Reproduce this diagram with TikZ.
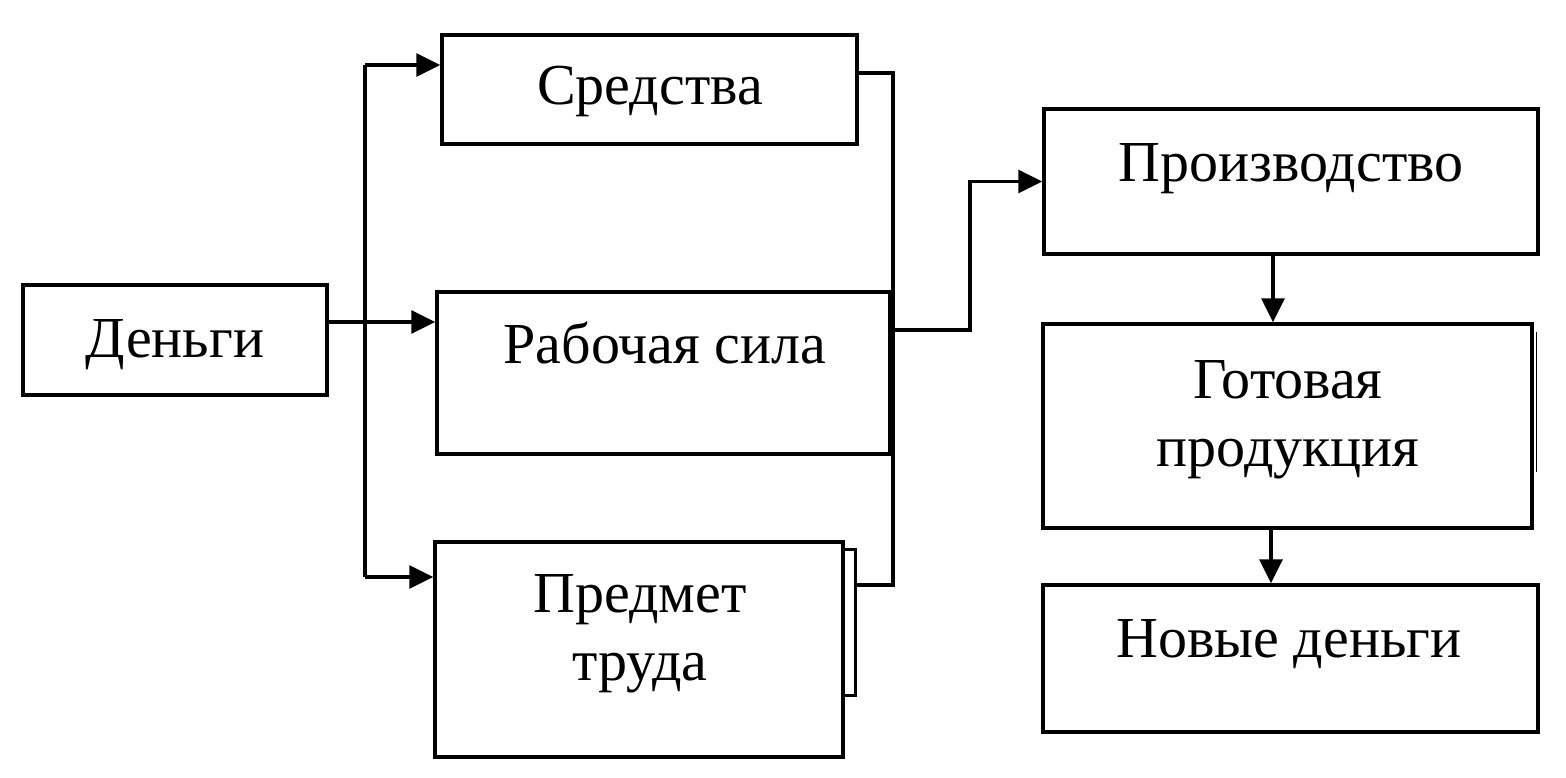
\documentclass[tikz,border=0pt]{standalone}
\usepackage{fontspec}
\setmainfont{Liberation Serif}
\usetikzlibrary{arrows.meta}
\begin{document}
\begin{tikzpicture}[x=1pt,y=-1pt,
  box/.style={draw,line width=3.5pt,rectangle,inner sep=0pt,anchor=center},
  lbl/.style={anchor=base,inner sep=0pt,font=\fontsize{58}{68}\selectfont},
  conn/.style={line width=3.5pt},
  arr/.style={line width=3.5pt,-{Triangle[length=24pt,width=23pt]}}]
\useasboundingbox (0,0) rectangle (1566,778);
\fill[white] (0,0) rectangle (1566,778);
% boxes
\node[box,minimum width=304pt,minimum height=110pt] (den) at (175,340) {};
\node[box,minimum width=415pt,minimum height=109pt] (sred) at (649.5,89.5) {};
\node[box,minimum width=453pt,minimum height=162pt] (rab) at (663.5,373) {};
\node[box,minimum width=408pt,minimum height=215pt] (pred) at (639,649.5) {};
\node[box,line width=3pt,minimum width=12pt,minimum height=146pt] (strip) at (849,622) {};
\node[box,minimum width=494pt,minimum height=145pt] (proizv) at (1291,181.5) {};
\node[box,minimum width=489pt,minimum height=204pt] (got) at (1287.5,426) {};
\node[box,minimum width=495pt,minimum height=147pt] (nov) at (1290.5,658.5) {};
\draw[line width=1.5pt] (1536.5,332) -- (1536.5,472);
% labels
\node[lbl] (tden) at (175,357) {Деньги};
\node[lbl] (tsred) at (650,105) {Средства};
\node[lbl] (trab) at (665,363) {Рабочая сила};
\node[lbl] (tpred1) at (640,612) {Предмет};
\node[lbl] (tpred2) at (640,680) {труда};
\node[lbl] (tproizv) at (1291,182) {Производство};
\node[lbl] (tgot1) at (1288,398) {Готовая};
\node[lbl] (tgot2) at (1288,466) {продукция};
\node[lbl] (tnov) at (1289,657) {Новые деньги};
% connector coordinates
\coordinate (a1) at (365,65);
\coordinate (a2) at (365,577);
\coordinate (m) at (0,322);
\coordinate (r1) at (893,73);
\coordinate (r2) at (893,585);
\coordinate (k) at (970,330);
\coordinate (v1) at (1273,0);
\coordinate (v2) at (1271,0);
% connectors
\draw[conn] (a1) -- (a2);
\draw[arr] (a1) -- (sred.west |- a1);
\draw[arr] (a2) -- (pred.west |- a2);
\draw[arr] (den.east |- m) -- (rab.west |- m);
\draw[conn] (sred.east |- r1) -- (r1) -- (r2) -- (strip.east |- r2);
\draw[arr] (rab.east |- k) -- (k) -- (k |- proizv.west) -- (proizv.west);
\draw[arr] (proizv.south -| v1) -- (got.north -| v1);
\draw[arr] (got.south -| v2) -- (nov.north -| v2);
\end{tikzpicture}
\end{document}
